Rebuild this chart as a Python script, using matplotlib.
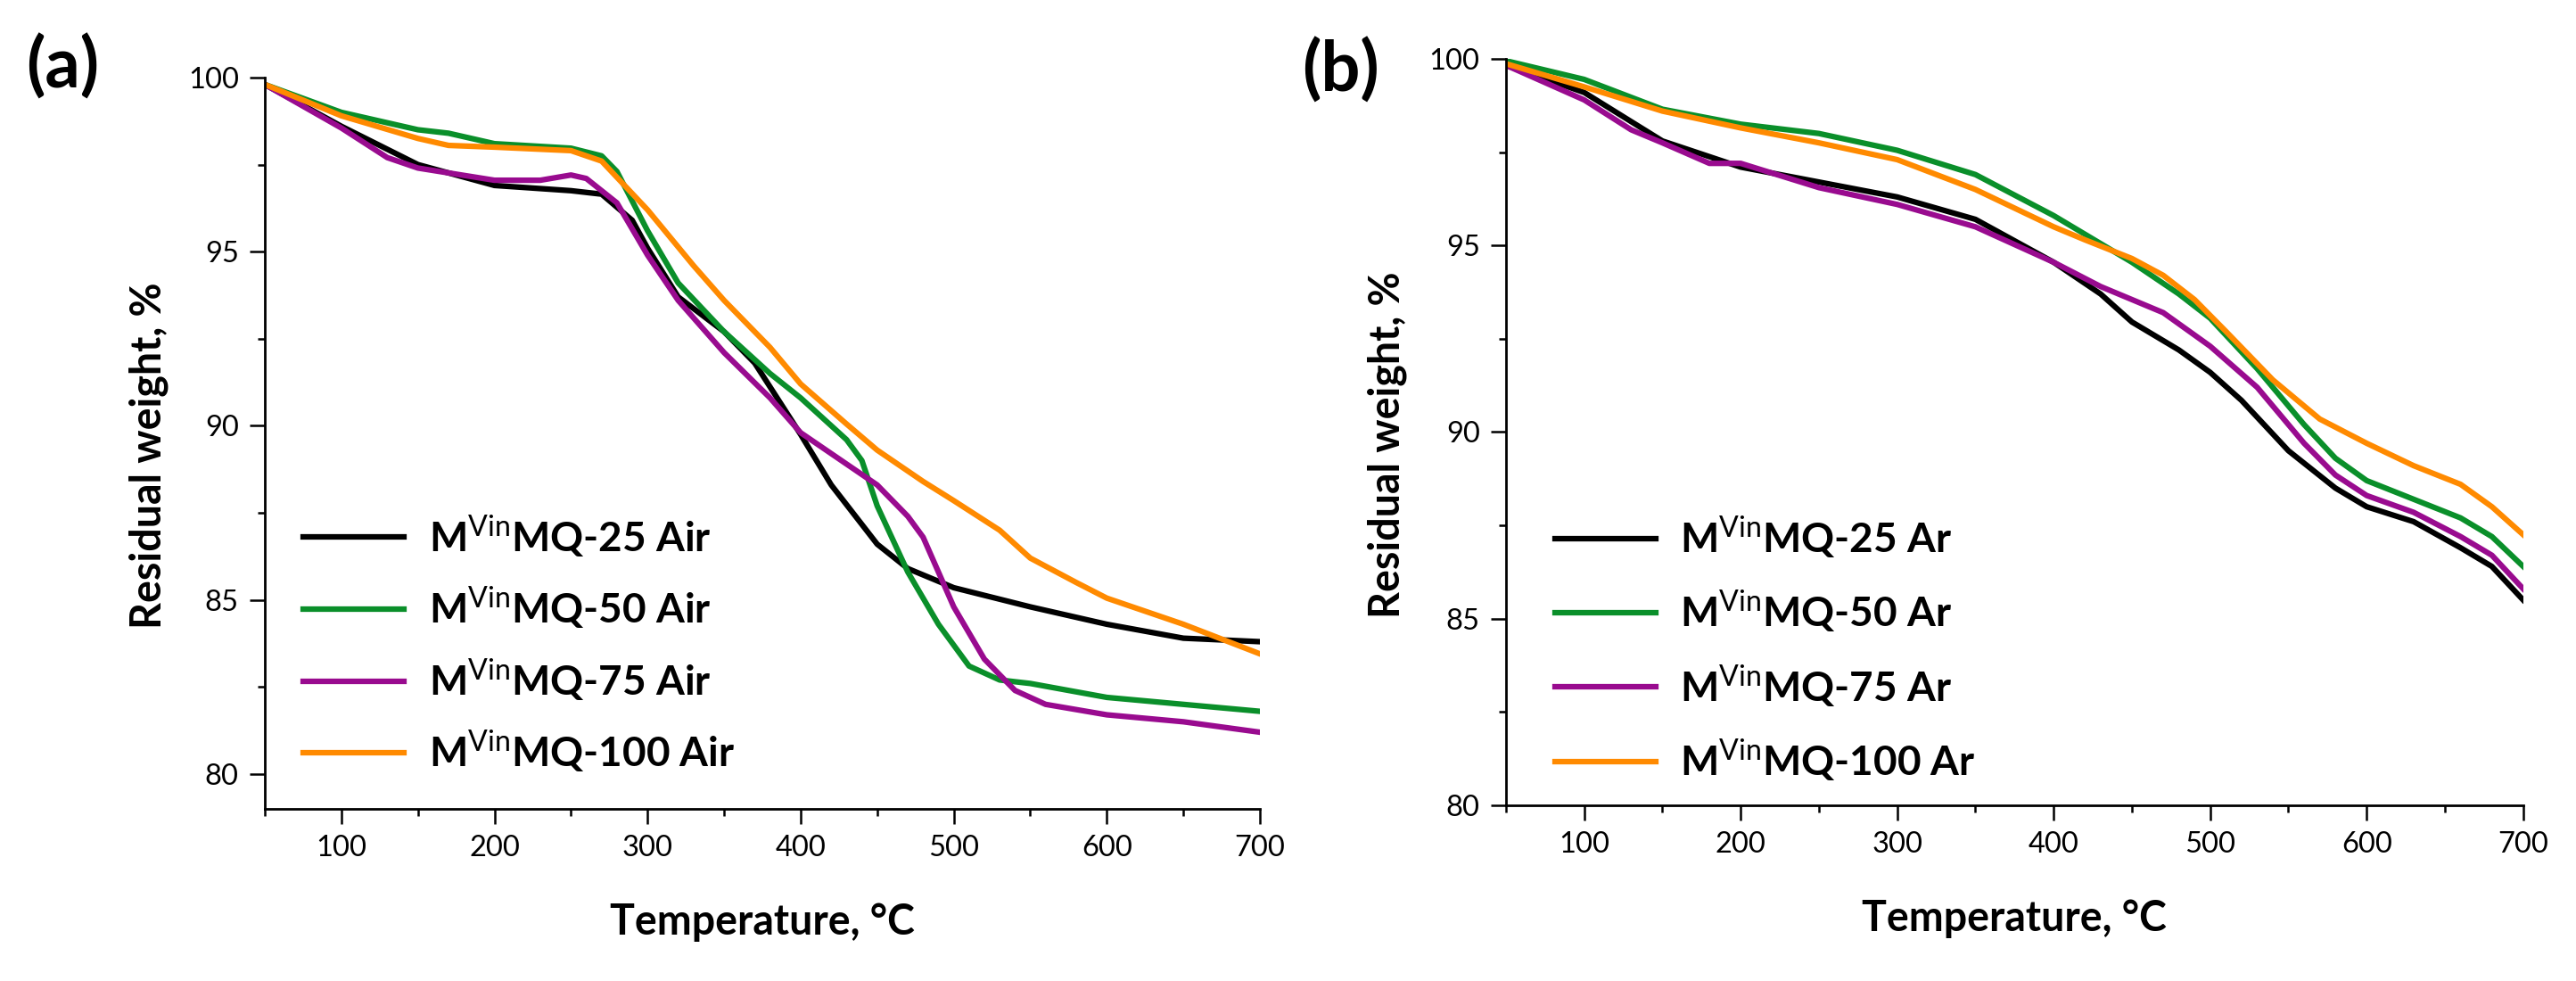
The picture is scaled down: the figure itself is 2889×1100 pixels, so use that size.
import numpy as np
import matplotlib
matplotlib.use("Agg")
import matplotlib.pyplot as plt
from matplotlib.ticker import MultipleLocator

plt.rcParams['font.family'] = ['Lato', 'DejaVu Sans']
plt.rcParams['mathtext.fontset'] = 'custom'
plt.rcParams['mathtext.rm'] = 'Lato'
plt.rcParams['mathtext.bf'] = 'Lato:bold'

# ---- panel (a): air ----
t_a25 = [50, 100, 150, 200, 250, 270, 290, 300, 320, 350, 370, 400, 420, 450, 470, 500, 550, 600, 650, 700]
w_a25 = [99.8, 98.6, 97.5, 96.9, 96.75, 96.65, 95.9, 95.1, 93.7, 92.7, 91.8, 89.75, 88.3, 86.6, 85.9, 85.35, 84.8, 84.3, 83.9, 83.8]

t_a50 = [50, 100, 150, 170, 200, 250, 270, 280, 300, 320, 350, 380, 400, 430, 440, 450, 470, 490, 510, 530, 550, 600, 650, 700]
w_a50 = [99.8, 99.0, 98.5, 98.4, 98.1, 97.97, 97.75, 97.3, 95.6, 94.1, 92.7, 91.5, 90.8, 89.6, 89.0, 87.7, 85.8, 84.3, 83.1, 82.7, 82.6, 82.2, 82.0, 81.8]

t_a75 = [50, 100, 130, 150, 200, 230, 250, 260, 280, 300, 320, 350, 380, 400, 420, 450, 470, 480, 490, 500, 520, 540, 560, 600, 650, 700]
w_a75 = [99.8, 98.55, 97.7, 97.4, 97.05, 97.05, 97.2, 97.1, 96.4, 94.9, 93.6, 92.1, 90.8, 89.8, 89.2, 88.3, 87.4, 86.8, 85.8, 84.8, 83.3, 82.4, 82.0, 81.7, 81.5, 81.2]

t_a100 = [50, 100, 150, 170, 200, 250, 270, 300, 330, 350, 380, 400, 430, 450, 480, 500, 530, 550, 580, 600, 650, 700]
w_a100 = [99.8, 98.9, 98.25, 98.05, 98.0, 97.9, 97.6, 96.2, 94.6, 93.6, 92.25, 91.2, 90.05, 89.3, 88.4, 87.85, 87.0, 86.2, 85.5, 85.05, 84.3, 83.45]

# ---- panel (b): argon ----
t_b25 = [50, 100, 150, 200, 250, 300, 350, 400, 430, 450, 480, 500, 520, 550, 580, 600, 630, 660, 680, 700]
w_b25 = [99.83, 99.1, 97.8, 97.1, 96.7, 96.3, 95.7, 94.55, 93.7, 92.95, 92.2, 91.6, 90.85, 89.5, 88.5, 88.0, 87.6, 86.9, 86.4, 85.5]

t_b50 = [50, 100, 150, 200, 250, 300, 350, 400, 450, 480, 500, 530, 560, 580, 600, 630, 660, 680, 700]
w_b50 = [99.95, 99.45, 98.65, 98.25, 98.0, 97.55, 96.9, 95.8, 94.55, 93.7, 93.05, 91.7, 90.2, 89.3, 88.7, 88.2, 87.7, 87.2, 86.4]

t_b75 = [50, 100, 130, 150, 180, 200, 250, 300, 350, 400, 430, 470, 500, 530, 560, 580, 600, 630, 660, 680, 700]
w_b75 = [99.83, 98.9, 98.1, 97.75, 97.2, 97.2, 96.55, 96.1, 95.5, 94.55, 93.9, 93.2, 92.3, 91.2, 89.7, 88.85, 88.3, 87.85, 87.2, 86.7, 85.8]

t_b100 = [50, 100, 150, 200, 250, 300, 350, 400, 420, 450, 470, 490, 510, 540, 570, 600, 630, 660, 680, 700]
w_b100 = [99.87, 99.25, 98.6, 98.15, 97.75, 97.3, 96.5, 95.5, 95.15, 94.65, 94.2, 93.55, 92.7, 91.4, 90.35, 89.7, 89.1, 88.6, 88.0, 87.25]

colors = ['#000000', '#0a8f2a', '#990b8f', '#ff8a00']
labels_a = ['M$^{\\mathrm{Vin}}$MQ-25 Air', 'M$^{\\mathrm{Vin}}$MQ-50 Air',
            'M$^{\\mathrm{Vin}}$MQ-75 Air', 'M$^{\\mathrm{Vin}}$MQ-100 Air']
labels_b = ['M$^{\\mathrm{Vin}}$MQ-25 Ar', 'M$^{\\mathrm{Vin}}$MQ-50 Ar',
            'M$^{\\mathrm{Vin}}$MQ-75 Ar', 'M$^{\\mathrm{Vin}}$MQ-100 Ar']

fig = plt.figure(figsize=(28.89, 11), dpi=100)
ax_a = fig.add_axes([0.1028, 0.1755, 0.3863, 0.7455])
ax_b = fig.add_axes([0.5846, 0.1791, 0.3949, 0.7609])

series_a = [(t_a25, w_a25), (t_a50, w_a50), (t_a75, w_a75), (t_a100, w_a100)]
series_b = [(t_b25, w_b25), (t_b50, w_b50), (t_b75, w_b75), (t_b100, w_b100)]

for ax, series, labels, ylo in [(ax_a, series_a, labels_a, 79), (ax_b, series_b, labels_b, 80)]:
    for (t, w), c, lab in zip(series, colors, labels):
        ax.plot(t, w, color=c, lw=4.5, label=lab, solid_joinstyle='round')
    ax.set_xlim(50, 700)
    ax.set_ylim(ylo, 100)
    ax.spines['top'].set_visible(False)
    ax.spines['right'].set_visible(False)
    for s in ['left', 'bottom']:
        ax.spines[s].set_linewidth(2.0)
    ax.xaxis.set_major_locator(MultipleLocator(100))
    ax.xaxis.set_minor_locator(MultipleLocator(50))
    ax.yaxis.set_major_locator(MultipleLocator(5))
    ax.yaxis.set_minor_locator(MultipleLocator(2.5))
    ax.tick_params(which='major', direction='out', length=12, width=1.8, labelsize=23.5, pad=9)
    ax.tick_params(which='minor', direction='out', length=6, width=1.8)
    ax.set_xlabel('Temperature, °C', fontsize=33.5, fontweight='bold', labelpad=33)
    ax.set_ylabel('Residual weight, %', fontsize=33.5, fontweight='bold')
    ax.yaxis.set_label_coords(-0.097, 0.483)

leg_kw = dict(frameon=False, prop={'weight': 'bold', 'size': 33},
              handlelength=2.47, handletextpad=0.6, borderpad=0, borderaxespad=0)
ax_a.legend(loc='center left', bbox_to_anchor=(0.0385, 0.226), labelspacing=0.63, **leg_kw)
ax_b.legend(loc='center left', bbox_to_anchor=(0.048, 0.21), labelspacing=0.69, **leg_kw)

fig.text(0.0242, 0.931, '(a)', fontsize=56, fontweight='bold', ha='center', va='center')
fig.text(0.5203, 0.928, '(b)', fontsize=56, fontweight='bold', ha='center', va='center')

fig.savefig('out.png', dpi=100)
